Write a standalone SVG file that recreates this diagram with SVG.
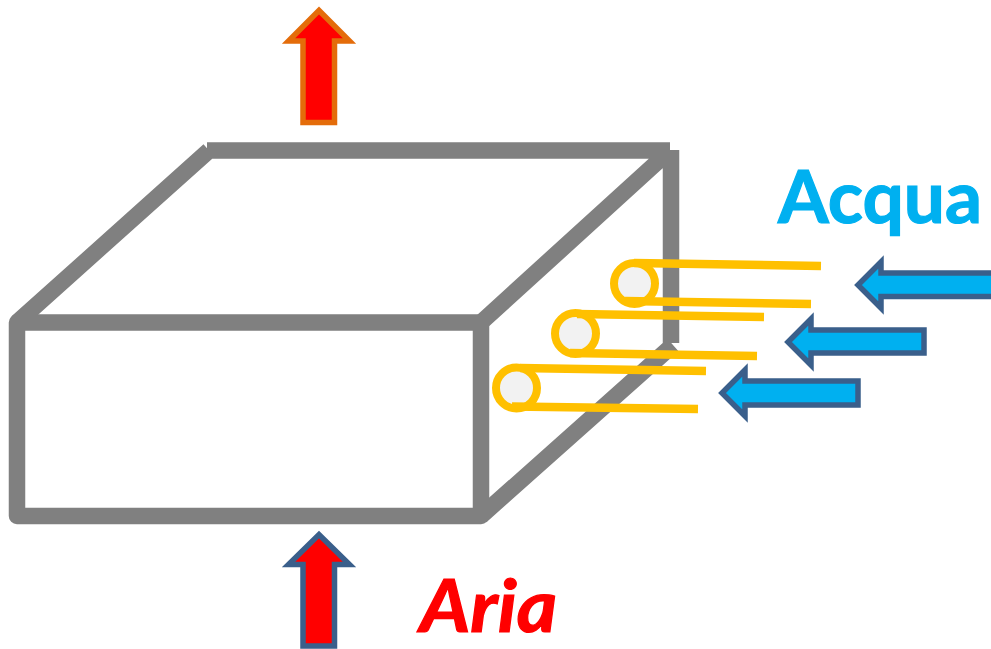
<svg xmlns="http://www.w3.org/2000/svg" width="991" height="649" viewBox="0 0 991 649">
<style>
.box{fill:none;stroke:#808080;stroke-width:16.500;stroke-linecap:butt;stroke-linejoin:round}
.up{fill:#ff0000;stroke-width:5.500;stroke-linejoin:miter;stroke-miterlimit:10}
.left{fill:#00b0f0;stroke:#3a5f8b;stroke-width:5.500;stroke-linejoin:miter;stroke-miterlimit:10}
.ring{fill:#f2f2f2;stroke:#ffc000;stroke-width:8}
.wire{fill:none;stroke:#ffc000;stroke-width:8.500}
text{font-family:Lato,"Open Sans","Liberation Sans",sans-serif;font-weight:700;stroke-width:1.200}
</style>
<g id="box">
<path class="box" d="M17 322.500H481V516H17Z"/>
<path class="box" d="M17 322.500L209 150.500M207 150.500H670M671 150V343M670 150.500L481 322.500M481 516L673 345"/>
</g>
<g id="connectors">
<g id="arrow-out"><path class="up" style="stroke:#e46c0a" d="M303 122.500V41H288.500L319 10.500L349.500 41H334.500V122.500Z"/></g>
<g id="arrow-in"><path class="up" style="stroke:#3a5f8b" d="M303 646V564.500H288.500L319 534.500L349.500 564.500H334.500V646Z"/></g>
<path class="left" d="M991 273H881V262L858 285L881 308V296.500H991"/>
<path class="left" d="M924 330H811V319L788 342L811 365V353H924Z"/>
<path class="left" d="M858 381H745V370L722 393L745 416V405H858Z"/>
</g>
<g id="coil-1">
<ellipse class="ring" cx="634.500" cy="283.500" rx="20.500" ry="20.500"/>
<path class="wire" d="M634 263L821 266M625 301L811 304"/>
</g>
<g id="coil-2">
<ellipse class="ring" cx="575.500" cy="333.500" rx="20.500" ry="20.500"/>
<path class="wire" d="M577 314L764 317M570 353L757 356"/>
</g>
<g id="coil-3">
<ellipse class="ring" cx="516.500" cy="388" rx="20.500" ry="20.500"/>
<path class="wire" d="M520 368L706 371M512 406.500L698 409"/>
</g>
<text id="label-acqua" x="778" y="223" font-size="73" fill="#00b0f0" stroke="#00b0f0" textLength="204" lengthAdjust="spacingAndGlyphs">Acqua</text>
<text id="label-aria" x="420" y="632" font-size="73" font-style="italic" fill="#ff0000" stroke="#ff0000" textLength="137" lengthAdjust="spacingAndGlyphs">Aria</text>
</svg>
